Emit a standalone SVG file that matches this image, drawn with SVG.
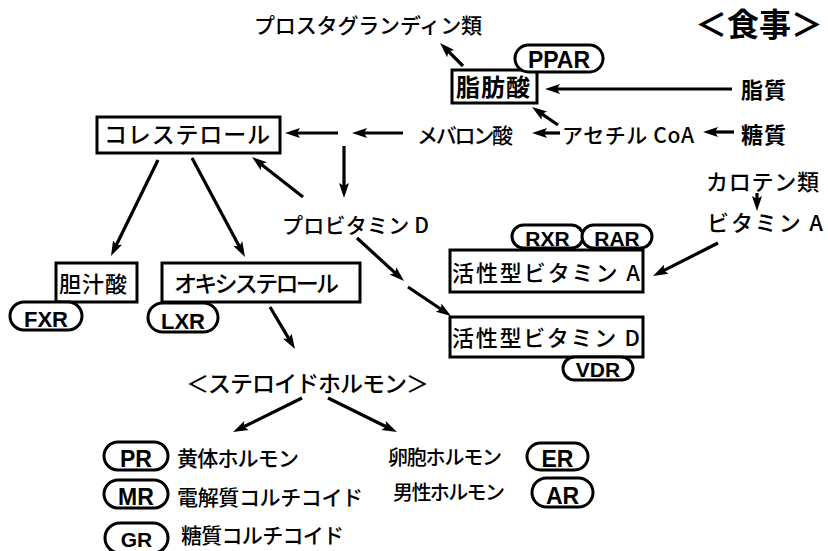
<svg xmlns="http://www.w3.org/2000/svg" width="828" height="551" viewBox="0 0 828 551">
<style>
.t{font-family:"Noto Sans CJK JP","Noto Sans CJK SC",sans-serif;font-weight:500;fill:#000}
.b{font-weight:bold}
.box{fill:#fff;stroke:#000;stroke-width:3}
.pill{fill:#fff;stroke:#000;stroke-width:3}
.pt{font-family:"Liberation Sans",Arial,sans-serif;font-weight:bold;text-anchor:middle;fill:#000}
.arr{stroke:#000;stroke-width:3.2;fill:none;marker-end:url(#ah)}
</style>
<defs>
<marker id="ah" markerUnits="userSpaceOnUse" markerWidth="16" markerHeight="12" viewBox="0 0 16 10" refX="7" refY="5" orient="auto">
<path d="M0,0 L15,5 L0,10 L3,5 z" fill="#000"/>
</marker>
</defs>
<rect width="828" height="551" fill="#fff"/>

<g id="connectors">
<line class="arr" x1="463" y1="66" x2="445.7" y2="48.7"/>
<line class="arr" x1="732" y1="89" x2="553" y2="89"/>
<line class="arr" x1="558" y1="125" x2="538.6" y2="111.6"/>
<line class="arr" x1="734" y1="132" x2="711" y2="132"/>
<line class="arr" x1="560" y1="133" x2="540" y2="133"/>
<line class="arr" x1="403" y1="133" x2="360" y2="133"/>
<line class="arr" x1="338" y1="133" x2="293" y2="133"/>
<line class="arr" x1="344" y1="146" x2="344" y2="190"/>
<line class="arr" x1="303" y1="197" x2="258.3" y2="161.9"/>
<line class="arr" x1="158" y1="160" x2="114.5" y2="248.8"/>
<line class="arr" x1="192" y1="158" x2="241.2" y2="249.9"/>
<line class="arr" x1="357" y1="238" x2="398.1" y2="275.6"/>
<line class="arr" x1="408" y1="287" x2="444.4" y2="311.5"/>
<line class="arr" x1="757" y1="193" x2="757" y2="203"/>
<line class="arr" x1="718" y1="243" x2="660.1" y2="272.4"/>
<line class="arr" x1="270" y1="307" x2="290.9" y2="342.1"/>
<line class="arr" x1="302" y1="398" x2="240.2" y2="428.5"/>
<line class="arr" x1="328" y1="398" x2="389.8" y2="428.5"/>
</g>

<g id="title"><text class="t b" x="759" y="36" font-size="32" text-anchor="middle">＜食事＞</text></g>
<g id="prostaglandin"><text class="t" x="254" y="33" font-size="21" textLength="228">プロスタグランディン類</text></g>
<g id="fatty-acid">
<rect class="box" x="452" y="70" width="85" height="33"/>
<text class="t b" x="456" y="96" font-size="24" textLength="74">脂肪酸</text>
</g>
<g id="ppar">
<rect class="pill" x="515" y="45" width="88" height="27" rx="13.5"/>
<text class="pt" x="559" y="68" font-size="23">PPAR</text>
</g>
<g id="lipid"><text class="t b" x="741" y="98" font-size="22" textLength="45">脂質</text></g>
<g id="sugar"><text class="t b" x="741" y="143" font-size="22" textLength="45">糖質</text></g>
<g id="mevalonate"><text class="t" x="417" y="143" font-size="21" textLength="96">メバロン酸</text></g>
<g id="acetylcoa"><text class="t" x="562" y="143" font-size="21" textLength="132">アセチル CoA</text></g>
<g id="cholesterol">
<rect class="box" x="97" y="117" width="183" height="36"/>
<text class="t" x="104" y="143" font-size="23" textLength="166">コレステロール</text>
</g>
<g id="carotene"><text class="t" x="706" y="190" font-size="22" textLength="113">カロテン類</text></g>
<g id="vitaminA"><text class="t" x="707" y="231" font-size="22" textLength="116">ビタミン A</text></g>
<g id="provitaminD"><text class="t" x="282" y="233" font-size="21" textLength="147">プロビタミン D</text></g>
<g id="bile-acid">
<rect class="box" x="56" y="263" width="81" height="39"/>
<text class="t" x="59" y="292" font-size="22" textLength="68">胆汁酸</text>
</g>
<g id="fxr">
<rect class="pill" x="10" y="302" width="72" height="28" rx="14"/>
<text class="pt" x="46" y="327" font-size="22">FXR</text>
</g>
<g id="oxysterol">
<rect class="box" x="162" y="263" width="198" height="39"/>
<text class="t" x="174" y="292" font-size="23" textLength="165">オキシステロール</text>
</g>
<g id="lxr">
<rect class="pill" x="148" y="303" width="70" height="29" rx="14.5"/>
<text class="pt" x="183" y="329" font-size="22">LXR</text>
</g>
<g id="rxr">
<rect class="pill" x="512" y="225" width="71" height="23" rx="11.5"/>
<text class="pt" x="547.5" y="246" font-size="21">RXR</text>
</g>
<g id="rar">
<rect class="pill" x="582" y="225" width="70" height="23" rx="11.5"/>
<text class="pt" x="617" y="246" font-size="21">RAR</text>
</g>
<g id="active-vitaminA">
<rect class="box" x="450" y="250" width="193" height="42"/>
<text class="t" x="452" y="281" font-size="22" textLength="188">活性型ビタミン A</text>
</g>
<g id="active-vitaminD">
<rect class="box" x="450" y="317" width="193" height="40"/>
<text class="t" x="452" y="346" font-size="22" textLength="188">活性型ビタミン D</text>
</g>
<g id="vdr">
<rect class="pill" x="563" y="357" width="70" height="23" rx="11.5"/>
<text class="pt" x="598" y="377" font-size="21">VDR</text>
</g>
<g id="steroid"><text class="t" x="186" y="392" font-size="23" textLength="243">＜ステロイドホルモン＞</text></g>
<g id="pr">
<rect class="pill" x="104" y="442" width="64" height="28" rx="14"/>
<text class="pt" x="136" y="467" font-size="23">PR</text>
<text class="t" x="177" y="466" font-size="21" textLength="122">黄体ホルモン</text>
</g>
<g id="mr">
<rect class="pill" x="104" y="480" width="64" height="28" rx="14"/>
<text class="pt" x="136" y="505" font-size="23">MR</text>
<text class="t" x="177" y="505" font-size="21" textLength="186">電解質コルチコイド</text>
</g>
<g id="gr">
<rect class="pill" x="105" y="523" width="63" height="30" rx="15"/>
<text class="pt" x="136.5" y="547" font-size="21">GR</text>
<text class="t" x="181" y="543" font-size="21" textLength="163">糖質コルチコイド</text>
</g>
<g id="er">
<text class="t" x="388" y="465" font-size="20" textLength="114">卵胞ホルモン</text>
<rect class="pill" x="527" y="443" width="61" height="27" rx="13.5"/>
<text class="pt" x="557.5" y="467" font-size="23">ER</text>
</g>
<g id="ar">
<text class="t" x="393" y="500" font-size="20" textLength="112">男性ホルモン</text>
<rect class="pill" x="532" y="478" width="61" height="29" rx="14.5"/>
<text class="pt" x="562.5" y="504" font-size="23">AR</text>
</g>
</svg>
